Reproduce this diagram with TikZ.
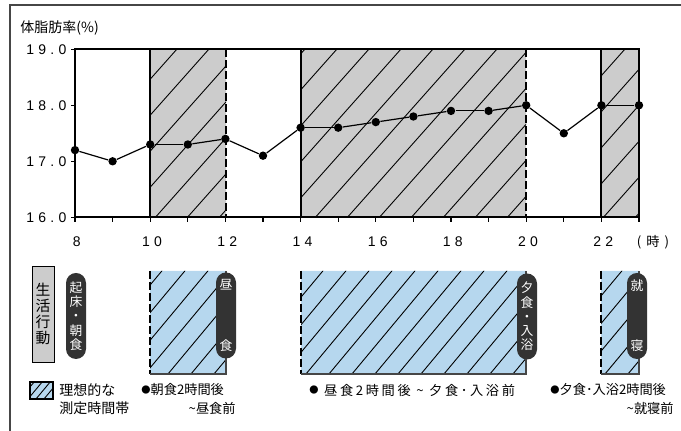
\documentclass[tikz,border=0pt]{standalone}
\usepackage{fontspec}
\setmainfont{Liberation Sans}
\newfontfamily\jp{Noto Sans CJK JP}
\newfontfamily\jpwide[LetterSpace=20]{Noto Sans CJK JP}
\newfontfamily\numfont[LetterSpace=30]{Liberation Sans}
\usepackage{tikz}

\definecolor{bandgray}{RGB}{204,204,204}
\definecolor{idealblue}{RGB}{182,215,238}
\definecolor{pillgray}{RGB}{51,51,51}
\definecolor{framegray}{RGB}{70,70,70}

\newcommand\dotmark{\raisebox{0.9pt}{\jp\fontsize{4.6}{5}\selectfont ●}}

\begin{document}
\begin{tikzpicture}[x=0.5pt, y=-0.5pt,
	dot/.style={circle, fill=black, inner sep=0pt, minimum size=4.2pt},
	pill/.style={fill=pillgray, rounded corners=5pt, minimum width=10pt,
		minimum height=43pt, inner sep=0pt, text=white, align=center,
		font={\jp\fontsize{6.4}{7.1}\selectfont}},
	numlab/.style={inner sep=0pt, font={\numfont\fontsize{7}{8}\selectfont}},
	jplab/.style={inner sep=0pt, align=left, font={\jp\fontsize{6.6}{9}\selectfont}},
	hatch/.style={line width=0.45pt},
	bandedge/.style={dash pattern=on 4pt off 1.5pt, line width=0.6pt}]
	\useasboundingbox (0,0) rectangle (681,431);
	% outer frame
	\draw[framegray, line width=0.9pt] (10,431) -- (10,5) -- (681,5);
	\node[jplab, anchor=west, font={\jp\fontsize{7}{8}\selectfont}] (ylabel) at (20,28) {体脂肪率(\%)};
	
	% gray bands in the chart
	\fill[bandgray] (150,49) rectangle (226,217) (301,49) rectangle (526,217) (601,49) rectangle (639,217);
	\begin{scope}
		\clip (150,49) rectangle (226,217) (301,49) rectangle (526,217) (601,49) rectangle (639,217);
		\foreach \s in {-4.3,27.7,...,640}
		\draw[hatch] (\s,217) -- ++(160,-180);
	\end{scope}
	\draw[line width=0.6pt] (75,49) rectangle (639,217);
	\draw[line width=0.6pt] (150,49) -- (150,217);
	\draw[line width=0.6pt] (301,49) -- (301,217);
	\draw[line width=0.6pt] (601,49) -- (601,217);
	\draw[bandedge] (226,49) -- (226,217);
	\draw[bandedge] (526,49) -- (526,217);
	
	% data
	\begin{scope}[shift={(75,217.3)}, x=18.8pt, y=28pt]
		\foreach \h in {0,...,15}
		\draw[line width=0.6pt] (\h,0) -- (\h,-0.09);
		\foreach \v in {0,...,3}
		\draw[line width=0.6pt] (0,\v) -- (-0.1,\v);
		\foreach \v in {16,17,18,19}
		\node[numlab, anchor=east] (y\v) at (-0.22,\v-16) {\v.0};
		\foreach \h in {8,10,...,22}
		\node[numlab] (x\h) at (\h-8+0.05,-0.43) {\h};
		\foreach \h/\v in {8/17.2, 9/17.0, 10/17.3, 11/17.3, 12/17.4, 13/17.1, 14/17.6, 15/17.6,
			16/17.7, 17/17.8, 18/17.9, 19/17.9, 20/18.0, 21/17.5, 22/18.0, 23/18.0}
		\node[dot] (p\h) at (\h-8,\v-16) {};
		\foreach \h [count=\n from 9] in {8,...,22}
		\draw[line width=0.6pt] (p\h) -- (p\n);
	\end{scope}
	\node[jplab, font={\jp\fontsize{6.6}{8}\selectfont}] (unit) at (653,242) {(\hspace{2.5pt}時\hspace{2.5pt})};
	
	% ideal time bands
	\fill[idealblue] (150,271) rectangle (226,374) (301,271) rectangle (526,374) (601,271) rectangle (639,374);
	\begin{scope}
		\clip (150,271) rectangle (226,374) (301,271) rectangle (526,374) (601,271) rectangle (639,374);
		\foreach \s in {53,76,...,640}
		\draw[hatch] (\s,374) -- ++(120,-144);
	\end{scope}
	\draw[bandedge] (150,271) -- (150,374);
	\draw[bandedge] (301,271) -- (301,374);
	\draw[bandedge] (601,271) -- (601,374);
	\draw[framegray, line width=0.7pt] (150,374) -- (226,374) -- (226,271);
	\draw[framegray, line width=0.7pt] (301,374) -- (526,374) -- (526,271);
	\draw[framegray, line width=0.7pt] (601,374) -- (639,374) -- (639,271);
	
	% daily life
	\node[draw, fill=bandgray, minimum width=11pt, minimum height=48pt, inner sep=0pt, align=center,
	font={\jp\fontsize{7.4}{8}\selectfont}] (life) at (43,314) {生\\活\\行\\動};
	\node[pill] (wake) at (76,316) {起\\床\\・\\朝\\食};
	\node[pill] (lunch) at (226,315.5) {昼\\[23pt]食};
	\node[pill] (dinner) at (527,316.5) {夕\\食\\・\\入\\浴};
	\node[pill] (sleep) at (637,316) {就\\[23pt]寝};
	
	% legend
	\fill[idealblue] (30,382) rectangle (53,399);
	\begin{scope}
		\clip (30,382) rectangle (53,399);
		\foreach \s in {20,28,...,60}
		\draw[hatch] (\s,399) -- ++(20,-24);
	\end{scope}
	\draw[line width=0.6pt] (30,382) rectangle (53,399);
	\node[jplab, anchor=west, font={\jp\fontsize{7}{9}\selectfont}] (ideal) at (59,399) {理想的な\\測定時間帯};
	\node[jplab, anchor=west] (after1) at (141,390) {\dotmark 朝食2時間後};
	\node[jplab, anchor=east] (before1) at (236,408) {\textasciitilde 昼食前};
	\node[jplab, anchor=west, font={\jpwide\fontsize{6.6}{9}\selectfont}] (after2) at (309,390) {\dotmark\ 昼食2時間後 \textasciitilde\ 夕食･入浴前};
	\node[jplab, anchor=west] (after3) at (550,390) {\dotmark 夕食･入浴2時間後};
	\node[jplab, anchor=east] (before3) at (674,408) {\textasciitilde 就寝前};
\end{tikzpicture}
\end{document}
